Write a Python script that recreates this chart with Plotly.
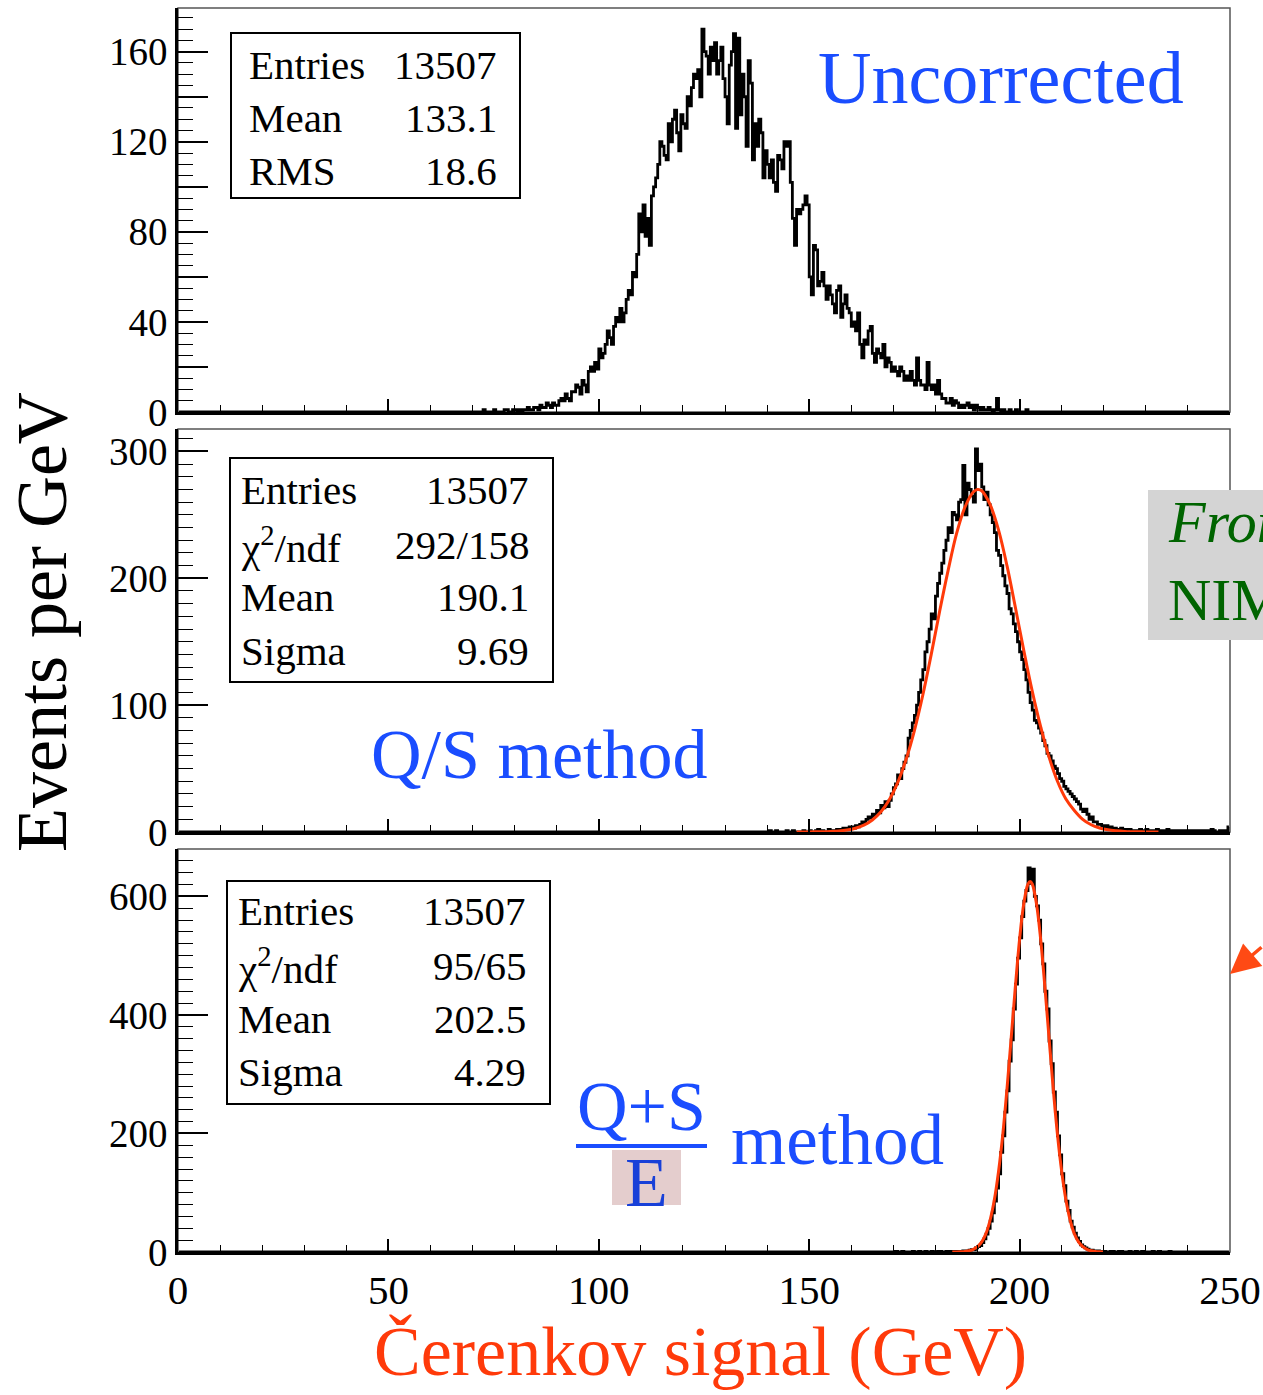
import plotly.graph_objects as go

# ---------------- data (0.5 GeV bins) ----------------
bin_width = 0.5
x_min, x_max = 0.0, 250.0

uncorr_start = 70.0
uncorr_counts = [
    0, 0, 0, 0, 0, 1, 0, 0, 0, 0, 1, 0, 0, 0, 0, 1, 1, 0, 0, 1,
    1, 0, 1, 0, 1, 1, 2, 1, 1, 2, 2, 1, 3, 2, 2, 4, 3, 2, 4, 3,
    3, 5, 6, 5, 8, 6, 5, 9, 9, 12, 11, 8, 14, 12, 9, 18, 20, 18, 22, 19,
    28, 24, 26, 30, 36, 33, 30, 38, 42, 40, 46, 40, 44, 50, 54, 52, 62, 60, 70, 88,
    80, 92, 78, 86, 74, 96, 100, 104, 110, 120, 118, 114, 112, 128, 120, 130, 134, 124, 116, 132,
    128, 126, 140, 136, 144, 150, 148, 152, 140, 170, 160, 158, 150, 162, 156, 164, 150, 156, 162, 148,
    140, 128, 154, 160, 168, 126, 166, 132, 150, 140, 118, 156, 146, 112, 128, 118, 130, 124, 104, 116,
    110, 104, 112, 102, 98, 114, 112, 108, 120, 118, 120, 102, 86, 74, 90, 88, 90, 92, 96, 92,
    60, 52, 74, 72, 56, 58, 62, 56, 50, 56, 52, 48, 44, 54, 56, 42, 48, 52, 46, 44,
    38, 40, 36, 44, 30, 24, 32, 30, 36, 38, 26, 22, 28, 26, 24, 30, 20, 24, 22, 18,
    20, 18, 16, 20, 18, 14, 16, 14, 18, 14, 12, 24, 14, 12, 12, 10, 22, 12, 10, 12,
    8, 14, 8, 6, 6, 4, 4, 6, 3, 5, 4, 2, 3, 2, 3, 4, 2, 3, 1, 3,
    2, 1, 2, 1, 1, 2, 1, 0, 1, 6, 1, 0, 1, 0, 0, 1, 0, 0, 1, 0,
    0, 0, 0, 1, 0, 0, 0, 0, 0, 0,
]

qs_start = 140.0
qs_counts = [
    0, 1, 0, 0, 1, 0, 0, 0, 0, 1, 0, 0, 1, 0, 0, 0, 0, 1, 0, 0,
    1, 0, 0, 1, 2, 0, 1, 0, 0, 2, 1, 0, 1, 2, 1, 2, 3, 2, 3, 4,
    4, 3, 5, 4, 6, 8, 7, 10, 12, 11, 14, 13, 17, 15, 21, 19, 24, 20, 25, 30,
    35, 38, 45, 42, 50, 55, 60, 74, 80, 86, 92, 100, 110, 120, 128, 142, 150, 160, 172, 168,
    186, 196, 204, 212, 222, 230, 240, 236, 252, 250, 246, 260, 262, 289, 250, 275, 270, 265, 260, 302,
    285, 290, 272, 262, 268, 258, 250, 244, 236, 222, 218, 210, 202, 194, 188, 176, 172, 164, 158, 150,
    142, 136, 128, 120, 110, 102, 96, 88, 86, 82, 78, 72, 68, 62, 60, 56, 52, 50, 46, 42,
    40, 36, 34, 32, 30, 28, 26, 24, 22, 18, 16, 18, 14, 10, 12, 8, 8, 6, 6, 5,
    4, 5, 3, 4, 2, 3, 2, 1, 3, 2, 1, 2, 2, 1, 1, 0, 1, 2, 0, 1,
    2, 1, 1, 1, 0, 2, 1, 0, 1, 1, 2, 0, 1, 1, 0, 1, 1, 0, 1, 1,
    0, 1, 1, 0, 1, 1, 0, 1, 1, 0, 1, 2, 1, 0, 0, 1, 1, 1, 1, 4,
]

qse_start = 170.0
qse_counts = [
    0, 1, 0, 0, 1, 0, 0, 0, 0, 1, 0, 0, 1, 0, 0, 1, 0, 0, 1, 0,
    0, 1, 1, 0, 0, 1, 1, 0, 1, 1, 1, 0, 1, 2, 1, 2, 3, 4, 4, 7,
    9, 11, 16, 22, 30, 40, 52, 66, 86, 108, 132, 168, 196, 236, 272, 322, 358, 410, 452, 496,
    530, 566, 592, 610, 648, 622, 646, 600, 584, 560, 520, 486, 440, 410, 356, 318, 270, 236, 196, 164,
    132, 112, 86, 70, 52, 42, 32, 24, 18, 12, 9, 7, 5, 3, 3, 2, 1, 2, 1, 0,
    1, 0, 0, 1, 1, 0, 0, 1, 1, 0, 0, 0, 1, 0, 0, 1, 0, 0, 1, 0,
    0, 0, 0, 1, 0, 0, 1, 0, 0, 0, 0, 1, 0, 0, 0, 0,
]

# fitted curves
qs_fit_x = [147, 149, 151, 153, 155, 157, 159, 161, 163, 165, 167, 169, 171, 173, 175, 177,
            179, 181, 183, 185, 187, 189, 190, 191, 193, 195, 197, 199, 201, 203, 205, 207,
            209, 211, 213, 215, 217, 219, 221, 223, 225, 227, 229, 231, 233]
qs_fit_y = [0.0, 0.0, 0.1, 0.2, 0.4, 0.8, 1.6, 3.0, 5.4, 9.5, 15.7, 25.2, 38.7, 57, 80, 108,
            140, 174, 206, 235, 256, 268, 270, 269, 258, 238, 210, 177, 143, 111, 83, 59,
            40, 26, 17, 10, 5.7, 3.2, 1.7, 0.9, 0.4, 0.2, 0.1, 0.0, 0.0]

qse_fit_x = [184, 185, 186, 187, 188, 189, 190, 191, 192, 193, 194, 195, 196, 197, 198, 199,
             200, 201, 202, 202.5, 203, 204, 205, 206, 207, 208, 209, 210, 211, 212, 213, 214,
             215, 216, 217, 218, 219, 220]
qse_fit_y = [0.05, 0.15, 0.4, 0.9, 2.1, 4.4, 9.0, 17, 31, 54, 88, 136, 198, 275, 361, 448,
             528, 588, 621, 625, 621, 588, 528, 448, 361, 275, 198, 136, 88, 54, 31, 17,
             9.0, 4.4, 2.1, 0.9, 0.4, 0.15]

stats_top = [("Entries", "13507"), ("Mean", "133.1"), ("RMS", "18.6")]
stats_mid = [("Entries", "13507"), ("χ<sup>2</sup>/ndf", "292/158"), ("Mean", "190.1"), ("Sigma", "9.69")]
stats_bot = [("Entries", "13507"), ("χ<sup>2</sup>/ndf", "95/65"), ("Mean", "202.5"), ("Sigma", "4.29")]

x_ticks = [0, 50, 100, 150, 200, 250]
y_top_ticks = [0, 20, 40, 60, 80, 100, 120, 140, 160]
y_top_labels = ["0", "", "40", "", "80", "", "120", "", "160"]

# ---------------- helpers ----------------
NB = int(round((x_max - x_min) / bin_width))
centers = [x_min + (i + 0.5) * bin_width for i in range(NB)]


def full(start, vals):
    arr = [0] * NB
    i0 = int(round((start - x_min) / bin_width))
    for k, v in enumerate(vals):
        arr[i0 + k] = v
    return arr


# pixel -> paper conversion (plot area 178..1230 x 8..1252)
L, R, T, B = 178, 1230, 8, 1252
W_, H_ = R - L, B - T


def PX(x):
    return (x - L) / W_


def PY(y):
    return (B - y) / H_


SERIF = "Liberation Serif, Times New Roman, serif"
BLUE = "#1a4dff"
RED = "#ff3a0a"

fig = go.Figure()

hist_line = dict(color="black", width=2.8)
fig.add_trace(go.Scatter(x=centers, y=full(uncorr_start, uncorr_counts), mode="lines",
                         line=dict(shape="hvh", **hist_line), xaxis="x", yaxis="y", showlegend=False))
fig.add_trace(go.Scatter(x=centers, y=full(qs_start, qs_counts), mode="lines",
                         line=dict(shape="hvh", **hist_line), xaxis="x2", yaxis="y2", showlegend=False))
fig.add_trace(go.Scatter(x=qs_fit_x, y=qs_fit_y, mode="lines",
                         line=dict(color=RED, width=3, shape="spline"), xaxis="x2", yaxis="y2", showlegend=False))
fig.add_trace(go.Scatter(x=centers, y=full(qse_start, qse_counts), mode="lines",
                         line=dict(shape="hvh", **hist_line), xaxis="x3", yaxis="y3", showlegend=False))
fig.add_trace(go.Scatter(x=qse_fit_x, y=qse_fit_y, mode="lines",
                         line=dict(color=RED, width=3, shape="spline"), xaxis="x3", yaxis="y3", showlegend=False))

# panel pixel geometry (top, bottom)
panels = [(8, 412), (429, 832), (849, 1252)]
doms = [[PY(b), PY(t)] for (t, b) in panels]

tickfont = dict(family=SERIF, size=39, color="black")


def xax(anchor, labels):
    return dict(domain=[0, 1], anchor=anchor, range=[x_min, x_max], tickvals=x_ticks,
                showticklabels=labels, ticks="inside", ticklen=13, tickwidth=1.5, tickcolor="black",
                minor=dict(ticks="inside", dtick=10, ticklen=7, tickwidth=1.2, tickcolor="black"),
                showgrid=False, zeroline=False, showline=True, linecolor="black", linewidth=2.5,
                tickfont=dict(family=SERIF, size=41, color="black"), automargin=False)


def yax(anchor, dom, rng, tickvals=None, ticktext=None, dtick=None, minor_dtick=None):
    d = dict(domain=dom, anchor=anchor, range=rng, ticks="inside", ticklen=30, tickwidth=1.5,
             tickcolor="black", minor=dict(ticks="inside", dtick=minor_dtick, ticklen=15,
                                           tickwidth=1.2, tickcolor="black"),
             showgrid=False, zeroline=False, showline=True, linecolor="black", linewidth=2.5,
             tickfont=tickfont, automargin=False)
    if tickvals is not None:
        d.update(tickmode="array", tickvals=tickvals, ticktext=ticktext)
    else:
        d.update(dtick=dtick, tick0=0)
    return d


fig.update_layout(
    width=1263, height=1395,
    margin=dict(l=L, r=1263 - R, t=T, b=1395 - B, autoexpand=False),
    paper_bgcolor="white", plot_bgcolor="white",
    xaxis=xax("y", False), xaxis2=xax("y2", False), xaxis3=xax("y3", True),
    yaxis=yax("x", doms[0], [0, 179.4], y_top_ticks, y_top_labels, minor_dtick=5),
    yaxis2=yax("x2", doms[1], [0, 317.7], dtick=100, minor_dtick=10),
    yaxis3=yax("x3", doms[2], [0, 680], dtick=200, minor_dtick=20),
)

shapes = []
# thin frames
for (t, b) in panels:
    shapes.append(dict(type="rect", xref="paper", yref="paper", x0=PX(L), x1=PX(R), y0=PY(b), y1=PY(t),
                       line=dict(color="#555555", width=1.5), layer="below"))

annotations = []


def stats_box(x0, x1, y0, y1, rows, ys, lx, rx):
    shapes.append(dict(type="rect", xref="paper", yref="paper", x0=PX(x0), x1=PX(x1), y0=PY(y1), y1=PY(y0),
                       line=dict(color="black", width=2), fillcolor="white", layer="above"))
    for (lab, val), yy in zip(rows, ys):
        annotations.append(dict(text=lab, xref="paper", yref="paper", x=PX(lx), y=PY(yy), xanchor="left",
                                yanchor="middle", showarrow=False, font=dict(family=SERIF, size=41, color="black")))
        annotations.append(dict(text=val, xref="paper", yref="paper", x=PX(rx), y=PY(yy), xanchor="right",
                                yanchor="middle", showarrow=False, font=dict(family=SERIF, size=41, color="black")))


stats_box(231, 520, 33, 198, stats_top, [65, 118, 171], 247, 499)
stats_box(230, 553, 458, 682, stats_mid, [490, 545, 597, 651], 239, 531)
stats_box(227, 550, 881, 1104, stats_bot, [911, 966, 1019, 1072], 236, 528)


def txt(text, x, y, size, color, xanchor="left", italic=False, angle=0):
    annotations.append(dict(text=text, xref="paper", yref="paper", x=PX(x), y=PY(y), xanchor=xanchor,
                            yanchor="middle", showarrow=False, textangle=angle,
                            font=dict(family=SERIF, size=size, color=color,
                                      style="italic" if italic else "normal")))


txt("Uncorrected", 816, 78, 74, BLUE)
txt("Q/S method", 369, 754, 70, BLUE)

# (Q+S)/E method label
shapes.append(dict(type="rect", xref="paper", yref="paper", x0=PX(612), x1=PX(681), y0=PY(1205), y1=PY(1150),
                   line=dict(width=0), fillcolor="#e4cdcd", layer="above"))
shapes.append(dict(type="line", xref="paper", yref="paper", x0=PX(576), x1=PX(707), y0=PY(1146), y1=PY(1146),
                   line=dict(color=BLUE, width=4), layer="above"))
txt("Q+S", 641, 1106, 70, BLUE, xanchor="center")
txt("E", 646, 1182, 70, "#1840d8", xanchor="center")
txt("method", 729, 1140, 71, BLUE)

# axis titles
txt("Events per GeV", 42, 622, 72, "black", xanchor="center", angle=-90)
txt("Čerenkov signal (GeV)", 700, 1351, 70, RED, xanchor="center")

# "From NIM" box cut at the right edge
shapes.append(dict(type="rect", xref="paper", yref="paper", x0=PX(1148), x1=PX(1320), y0=PY(640), y1=PY(490),
                   line=dict(width=0), fillcolor="#d4d4d4", layer="above"))
txt("From", 1166, 522, 60, "#006400", italic=True)
txt("NIM", 1166, 600, 60, "#006400")

# orange arrow at right edge
annotations.append(dict(text="", xref="paper", yref="paper", x=PX(1230), y=PY(974), ax=50, ay=-28,
                        showarrow=True, arrowhead=2, arrowsize=1.7, arrowwidth=3.5, arrowcolor="#ff4a14"))

fig.update_layout(shapes=shapes, annotations=annotations)

fig.write_html("out.html", config={"displayModeBar": False},
               post_script="document.body.style.margin='0';")
